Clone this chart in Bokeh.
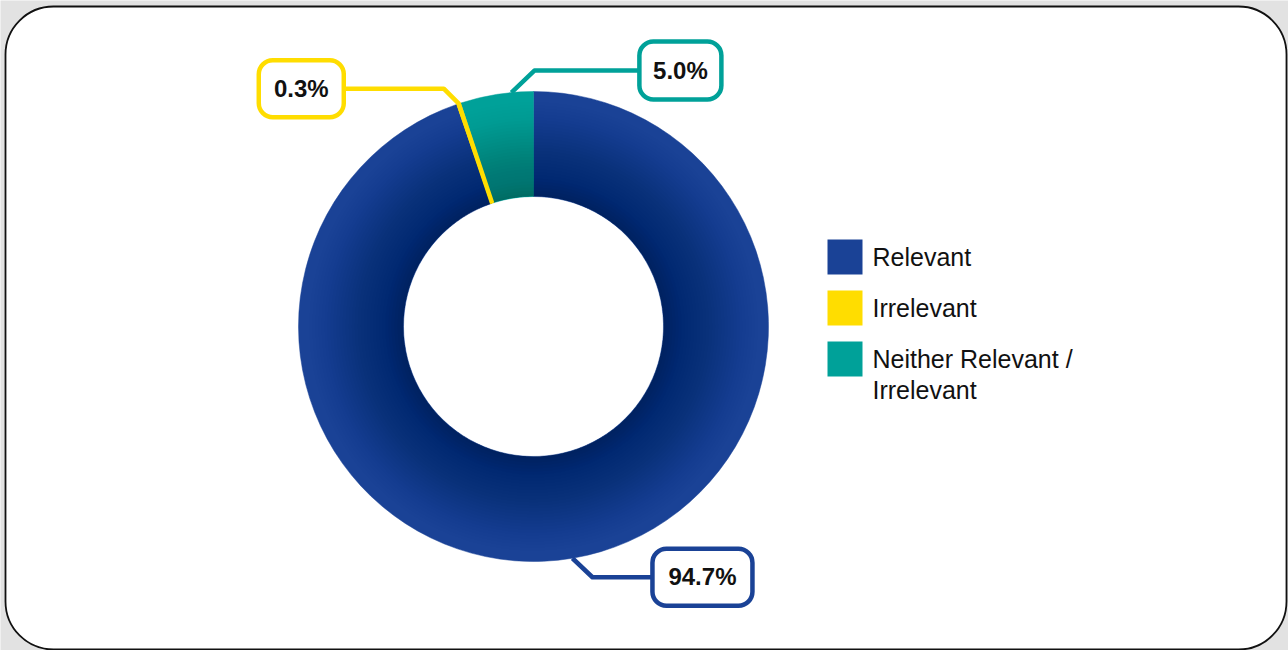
import math
from bokeh.plotting import figure
from bokeh.models import Range1d, BoxAnnotation, Label, ColumnDataSource
from bokeh.core.properties import value
from bokeh.embed import file_html
from bokeh.resources import INLINE

# ---------------- data ----------------
categories = ["Relevant", "Irrelevant", "Neither Relevant / Irrelevant"]
legend_labels = ["Relevant", "Irrelevant", "Neither Relevant /\nIrrelevant"]
shares = [94.7, 0.3, 5.0]
share_labels = ["94.7%", "0.3%", "5.0%"]
colors = ["#1A4296", "#FFDD00", "#00A199"]

# ---------------- layout ----------------
W, H = 1288, 650
FONT = "Liberation Sans"
p = figure(width=W, height=H, x_range=Range1d(0, W), y_range=Range1d(0, H),
           min_border=0, toolbar_location=None, output_backend="svg",
           x_axis_location=None, y_axis_location=None)
p.grid.visible = False
p.outline_line_color = None
p.background_fill_color = "#e2e2e2"
p.border_fill_color = "#e2e2e2"

# card
card = BoxAnnotation(left=5, right=1286, top=644, bottom=1, border_radius=48,
                     fill_color="white", fill_alpha=1.0, line_color="#111111",
                     line_alpha=1.0, line_width=1.8, level="underlay")
p.add_layout(card)

cx, cy = 533, 324
r_out, r_in = 235, 130

# wedges (clockwise from 12 o'clock)
starts, ends = [], []
cum = 0.0
for v in shares:
    hi = 90 - cum * 3.6
    lo = hi - v * 3.6
    starts.append(math.radians(lo))
    ends.append(math.radians(hi))
    cum += v

src = ColumnDataSource(dict(x=[cx] * len(shares), y=[cy] * len(shares),
                            start=starts, end=ends, color=colors))
p.annular_wedge(x="x", y="y", inner_radius=r_in, outer_radius=r_out,
                inner_radius_units="screen", outer_radius_units="screen",
                start_angle="start", end_angle="end", fill_color="color",
                line_color="color", line_width=0.5, source=src)

# inner radial shading
N = 32
g_out = 228
radii = [r_in + (g_out - r_in) * (k + 1) / N for k in range(N)]
def target(r):
    t = max(0.0, (g_out - r) / (g_out - r_in))
    return 0.27 * t ** 1.5
alphas = [0.0] * N
T_next = 0.0
for j in range(N - 1, -1, -1):
    r_mid = r_in + (g_out - r_in) * (j + 0.5) / N
    T_j = target(r_mid)
    alphas[j] = max(0.0, 1 - (1 - T_j) / (1 - T_next))
    T_next = T_j
p.annulus(x=[cx] * N, y=[cy] * N, inner_radius=r_in, outer_radius=radii,
          inner_radius_units="screen", outer_radius_units="screen",
          fill_color="#161616", fill_alpha=alphas, line_color=None)

# callouts
anchor_frac = [0.5, 0.5, 0.3]       # where along the slice the leader starts
start_r = [r_out, r_in, r_out]
elbow = [(20, -19), (-15, 15), (23, 22)]
run = [60, -100, 105]
box_size = [(100, 57), (85, 57), (82, 58)]

for i in range(len(shares)):
    a = starts[i] + anchor_frac[i] * (ends[i] - starts[i])
    xs = [cx + start_r[i] * math.cos(a)]
    ys = [cy + start_r[i] * math.sin(a)]
    if start_r[i] != r_out:
        xs.append(cx + r_out * math.cos(a))
        ys.append(cy + r_out * math.sin(a))
    ex, ey = xs[-1] + elbow[i][0], ys[-1] + elbow[i][1]
    xs.append(ex); ys.append(ey)
    bx = ex + run[i]
    xs.append(bx); ys.append(ey)
    p.line(xs, ys, line_color=colors[i], line_width=4.5, line_join="round")
    bw, bh = box_size[i]
    left = bx if run[i] > 0 else bx - bw
    box = BoxAnnotation(left=left, right=left + bw, bottom=ey - bh / 2, top=ey + bh / 2,
                        border_radius=14, fill_color="white", fill_alpha=1.0,
                        line_color=colors[i], line_alpha=1.0, line_width=4.5)
    p.add_layout(box)
    lab = Label(x=left + bw / 2, y=ey + 0.5, text=share_labels[i], text_align="center",
                text_baseline="middle", text_font=FONT, text_font_size="24px",
                text_font_style="bold", text_color="#111111")
    p.add_layout(lab)

# legend
sq_x, sq_y0, sq_size, sq_gap = 844.5, 393.5, 35, 51
txt_x, line_h = 872, 31
lx, ly, lc, tx, ty, tt = [], [], [], [], [], []
for i, lbl in enumerate(legend_labels):
    yy = sq_y0 - i * sq_gap
    lx.append(sq_x); ly.append(yy); lc.append(colors[i])
    for j, part in enumerate(lbl.split("\n")):
        tx.append(txt_x); ty.append(yy - j * line_h); tt.append(part)
p.rect(x=lx, y=ly, width=sq_size, height=sq_size, width_units="screen",
       height_units="screen", fill_color=lc, line_color=None)
p.text(x=tx, y=ty, text=tt, text_font=value(FONT), text_font_size="25px",
       text_baseline="middle", text_align="left", text_color="#111111")

open("out.html", "w").write(file_html(p, INLINE))
